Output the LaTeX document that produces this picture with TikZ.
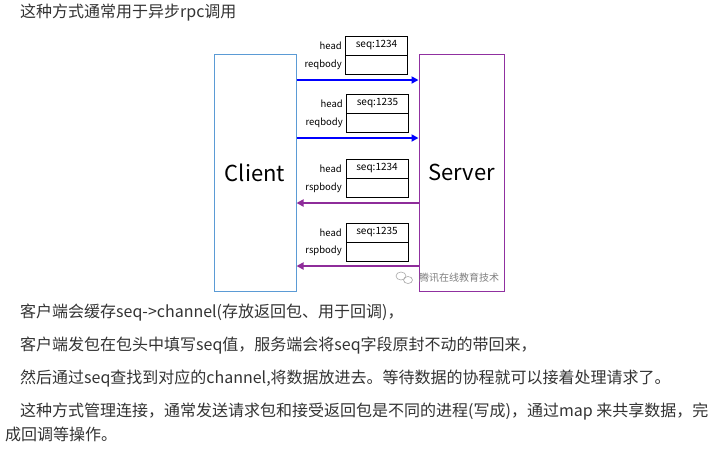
\documentclass[tikz,border=0pt]{standalone}
\usepackage{fontspec}
\setmainfont{Noto Sans CJK SC}
\usetikzlibrary{arrows.meta}
\definecolor{clientc}{HTML}{5B9BD5}
\definecolor{serverc}{HTML}{9030A0}
\definecolor{reqc}{HTML}{0000FF}
\definecolor{rspc}{HTML}{8E2C9A}
\definecolor{txt}{HTML}{333333}
\begin{document}
\begin{tikzpicture}[x=1pt,y=-1pt,
  party/.style={draw, line width=1pt, minimum width=82pt, minimum height=237pt, inner sep=0pt, font=\fontsize{22}{24}\selectfont, text=black},
  cell/.style={draw=black, line width=0.8pt, minimum width=62pt, minimum height=19pt, inner sep=0pt, font=\fontsize{10}{11}\selectfont},
  lbl/.style={anchor=east, inner sep=0pt, font=\fontsize{9.5}{10}\selectfont, text=black},
  req/.style={draw=reqc, line width=2.2pt, -{Triangle[length=7pt,width=7pt]}},
  rsp/.style={draw=rspc, line width=2.2pt, -{Triangle[length=7pt,width=7pt]}},
  para/.style={anchor=west, inner sep=0pt, text=txt, font=\fontsize{16}{18}\selectfont}
]
\useasboundingbox (0,0) rectangle (723,456);
\fill[white] (0,0) rectangle (723,456);

\node[para] (title) at (20,13) {这种方式通常用于异步rpc调用};

\node[party, draw=clientc] (client) at (255,172.5) {Client};
\node[party, draw=serverc, minimum width=85pt] (server) at (461.5,172.5) {Server};

% packet 1
\node[cell] (h1) at (376.5,45.5) {seq:1234};
\node[cell, anchor=north] (b1) at (h1.south) {};
\node[lbl] (lh1) at (342,46) {head};
\node[lbl] (lb1) at (342,65) {reqbody};
% packet 2
\node[cell] (h2) at (377.5,103.5) {seq:1235};
\node[cell, anchor=north] (b2) at (h2.south) {};
\node[lbl] (lh2) at (343,104) {head};
\node[lbl] (lb2) at (343,123) {reqbody};
% packet 3
\node[cell] (h3) at (377,168.5) {seq:1234};
\node[cell, anchor=north] (b3) at (h3.south) {};
\node[lbl] (lh3) at (342,169) {head};
\node[lbl] (lb3) at (342,188) {rspbody};
% packet 4
\node[cell] (h4) at (377,232.5) {seq:1235};
\node[cell, anchor=north] (b4) at (h4.south) {};
\node[lbl] (lh4) at (342,233) {head};
\node[lbl] (lb4) at (342,251) {rspbody};

% arrows
\coordinate (c1) at (client.east |- 0,80);
\coordinate (s1) at (server.west |- 0,80);
\draw[req] (c1) -- (s1);
\coordinate (c2) at (client.east |- 0,138);
\coordinate (s2) at (server.west |- 0,138);
\draw[req] (c2) -- (s2);
\coordinate (s3) at (server.west |- 0,203);
\coordinate (c3) at (client.east |- 0,203);
\draw[rsp] (s3) -- (c3);
\coordinate (s4) at (server.west |- 0,266);
\coordinate (c4) at (client.east |- 0,266);
\draw[rsp] (s4) -- (c4);

% watermark
\draw[gray!70, line width=0.6pt] (401,276) ellipse (5pt and 4pt);
\draw[gray!70, line width=0.6pt] (408,280) ellipse (4.5pt and 3.5pt);
\node[anchor=west, inner sep=0pt, text=gray, font=\fontsize{10}{11}\selectfont] (wm) at (419,278) {腾讯在线教育技术};

% paragraphs
\node[para] (p1) at (20,313) {客户端会缓存seq->channel(存放返回包、用于回调)，};
\node[para] (p2) at (20,346) {客户端发包在包头中填写seq值，服务端会将seq字段原封不动的带回来，};
\node[para] (p3) at (20,379) {然后通过seq查找到对应的channel,将数据放进去。等待数据的协程就可以接着处理请求了。};
\node[para] (p4) at (20,412) {这种方式管理连接，通常发送请求包和接受返回包是不同的进程(写成)，通过map 来共享数据，完};
\node[para] (p5) at (5,434) {成回调等操作。};
\end{tikzpicture}
\end{document}
